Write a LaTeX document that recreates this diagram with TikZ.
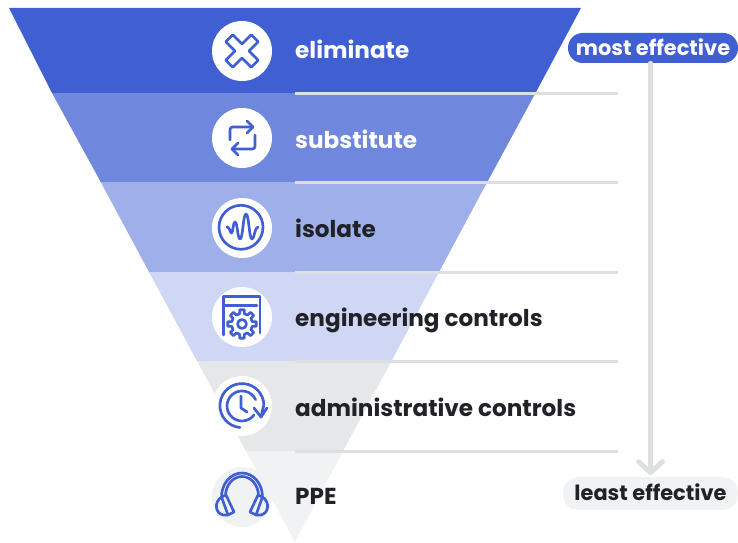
\documentclass[tikz,border=0pt]{standalone}
\usepackage{fontspec}
\setmainfont{Poppins}
\usetikzlibrary{positioning, arrows.meta}
\definecolor{blueA}{HTML}{3F5FD3}
\definecolor{blueB}{HTML}{6F87DD}
\definecolor{blueC}{HTML}{9FAFE9}
\definecolor{blueD}{HTML}{CFD7F4}
\definecolor{greyE}{HTML}{E6E7E9}
\definecolor{greyF}{HTML}{F1F2F4}
\definecolor{rule}{HTML}{DDDFE1}
\definecolor{ink}{HTML}{212227}
\tikzset{%
  every badge/.style={
    circle,
    fill=white,
    minimum size=45pt,
    inner sep=0pt
  },
  rowlabel/.style={
    font=\bfseries\fontsize{17.35pt}{20pt}\selectfont,
    text=ink,
    text height=12pt,
    text depth=4pt,
    inner sep=0pt
  },
  pill/.style={
    rounded corners=11pt,
    font=\bfseries\fontsize{15.7pt}{18pt}\selectfont,
    text height=12.5pt,
    text depth=1.5pt,
    inner sep=0pt,
    minimum height=22.5pt
  },
  icon/.style={
    draw=blueA,
    line width=2pt,
    line cap=round,
    line join=round
  },
  divider/.style={
    draw=rule,
    line width=2.25pt
  }
}

\begin{document}
\begin{tikzpicture}[x=.75pt,y=-.75pt,node distance=17pt]
		\useasboundingbox (0,0) rectangle (738,542);
		%% funnel rows
		\fill[blueA] (9,8) -- (581,8) -- (535.5,93) -- (52,93) -- cycle;
		\fill[blueB] (52,93) -- (535.5,93) -- (487,182.5) -- (101,182.5) -- cycle;
		\fill[blueC] (101,182.5) -- (487,182.5) -- (439,272) -- (149,272) -- cycle;
		\fill[blueD] (149,272) -- (439,272) -- (391.5,361) -- (197,361) -- cycle;
		\fill[greyE] (197,361) -- (391.5,361) -- (343,451) -- (246,451) -- cycle;
		\fill[greyF] (246,451) -- (343,451) -- (295,542) -- cycle;
		%% row dividers
		\foreach \y in {93,182.5,272,361,451}
			\draw[divider] (295,\y) -- (618,\y);
		%% badges
		\node[every badge] (elim) at (242,51) {};
		\node[every badge] (subs) at (242,138) {};
		\node[every badge] (isol) at (242,228) {};
		\node[every badge] (engi) at (242,317) {};
		\node[every badge] (admi) at (242,406) {};
		\node[every badge, fill=greyF] (ppe) at (242,497) {};
		%% row labels
		\node[rowlabel, text=white, right=of elim, yshift=-1.5pt] (elimtxt) {eliminate};
		\node[rowlabel, text=white, right=of subs, yshift=-3.5pt] (substxt) {substitute};
		\node[rowlabel, right=of isol, yshift=-3pt] (isoltxt) {isolate};
		\node[rowlabel, right=of engi, yshift=-3pt] (engitxt) {engineering controls};
		\node[rowlabel, right=of admi, yshift=-4pt] (admitxt) {administrative controls};
		\node[rowlabel, right=of ppe, yshift=-1.5pt] (ppetxt) {PPE};
		%% effectiveness scale
		\node[pill, fill=blueA, text=white, minimum width=127.5pt] (most) at (653,48) {most effective};
		\node[pill, fill=greyF, text=ink, minimum width=131pt, minimum height=24.5pt] (least) at (650.5,493.5) {least effective};
		\draw[draw=rule, line width=3.75pt, line cap=round, shorten >=1.5pt,
			-{Straight Barb[round, length=8pt, width=18pt]}] (least.north |- most.south) -- (least.north);
		%% eliminate icon
		\begin{scope}[shift={(elim.center)}, rotate=45]
			\draw[icon] (-5,-18) -- (5,-18) -- (5,-5) -- (18,-5) -- (18,5) -- (5,5) -- (5,18)
				-- (-5,18) -- (-5,5) -- (-18,5) -- (-18,-5) -- (-5,-5) -- cycle;
		\end{scope}
		%% substitute icon
		\begin{scope}[shift={(subs.center)}]
			\draw[icon, rounded corners=2pt] (-12,2) -- (-12,-11) -- (11,-11);
			\draw[icon] (5,-17) -- (11,-11) -- (5,-5);
			\draw[icon, rounded corners=2pt] (13,-3) -- (13,11) -- (-10,11);
			\draw[icon] (-4,5) -- (-10,11) -- (-4,17);
		\end{scope}
		%% isolate icon
		\begin{scope}[shift={(isol.center)}]
			\draw[icon] (-1,-.7) circle (22);
			\draw[icon] (-15,-1) .. controls (-12,-1) and (-12,5) .. (-10.5,5)
				.. controls (-9,5) and (-9,-6) .. (-7,-6)
				.. controls (-4.5,-6) and (-4.5,11) .. (-2,11)
				.. controls (1,11) and (1,-14) .. (4,-14)
				.. controls (7,-14) and (7,11) .. (10,11)
				.. controls (12.5,11) and (12.5,-1) .. (16,-1);
		\end{scope}
		%% engineering icon
		\begin{scope}[shift={(engi.center)}]
			\draw[icon] (-18.5,18) -- (-18.5,-20.5) -- (18,-20.5) -- (18,16);
			\draw[icon] (-18.5,-11.5) -- (15,-11.5);
			\draw[icon] (0,7) circle (4.5);
			\begin{scope}[shift={(0,7)}]
				\draw[icon] (-13:10.5) \foreach \a in {0,45,...,315} {
					-- ({\a-13}:10.5) -- ({\a-9}:14.5) -- ({\a+9}:14.5) -- ({\a+13}:10.5)} -- cycle;
			\end{scope}
		\end{scope}
		%% administrative icon
		\begin{scope}[shift={(admi.center)}]
			\draw[icon] (-2,21.5) arc (95:358:22) -- (19,11);
			\draw[icon] (12,2) -- (19,11) -- (25,2);
			\draw[icon] (12,9) arc (37:335:15);
			\draw[icon] (-1,-10) -- (-1,2) -- (5,6);
		\end{scope}
		%% ppe icon
		\begin{scope}[shift={(ppe.center)}]
			\draw[icon] (-20.5,0) arc [start angle=180, end angle=360, x radius=20.5, y radius=24];
			\draw[icon] (-16.5,-1) arc [start angle=180, end angle=360, x radius=16.5, y radius=19.5];
			\foreach \s in {-1,1} {
				\begin{scope}[xscale=\s]
					\draw[icon] (-20.5,0) -- (-16,-2) -- (-8,15) -- (-14,18) -- cycle;
					\draw[icon] (-20.5,0) .. controls (-28,5) and (-27,16) .. (-19,18) -- (-14,18);
				\end{scope}
			}
		\end{scope}
\end{tikzpicture}
\end{document}
